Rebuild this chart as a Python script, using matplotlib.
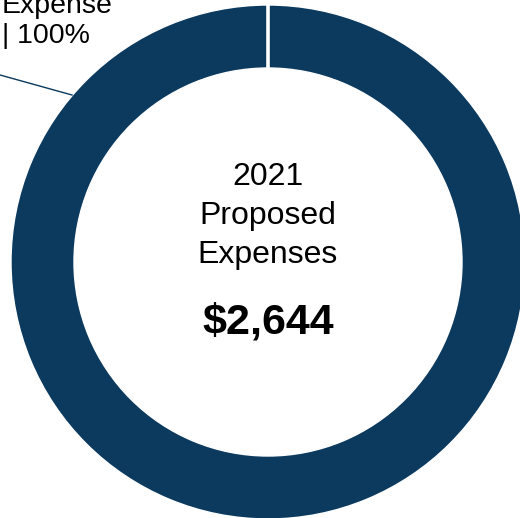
import matplotlib.pyplot as plt

# ----------------------------------------
# Data
# ----------------------------------------
categories = ["Expense"]
shares = [100]
total_label = "$2,644"
year = "2021"

color = "#0c3a5f"

# ----------------------------------------
# Plotting
# ----------------------------------------
plt.rcParams["font.family"] = ["Liberation Sans", "DejaVu Sans"]

fig = plt.figure(figsize=(5.2, 5.18), dpi=100)
ax = fig.add_axes([0, 0, 1, 1])

cx, cy, r, ring = 268, 262, 257, 63
ax.pie(shares, colors=[color], startangle=90, counterclock=False,
       center=(cx, cy), radius=r, frame=True,
       wedgeprops=dict(width=ring, edgecolor="white", linewidth=1))
ax.set_xlim(0, 520)
ax.set_ylim(518, 0)
ax.set_aspect("equal")
ax.axis("off")

# white separator where the single slice starts/ends (top of ring)
ax.plot([cx, cx], [cy - r - 2, cy - r + ring + 2], color="white", linewidth=2.6,
        solid_capstyle="butt")

# center text
ax.text(cx, 216, f"{year}\nProposed\nExpenses", ha="center", va="center",
        fontsize=23, linespacing=1.38, color="black")
ax.text(cx, 322, total_label, ha="center", va="center",
        fontsize=31, fontweight="bold", color="black")

# outside label + leader line
ax.text(2, 43, f"{categories[0]}\n| {shares[0]}%", ha="left", va="baseline",
        fontsize=20.5, linespacing=1.2, color="black")
ax.plot([0, 72], [75, 95], color=color, linewidth=1)

plt.savefig("out.png", dpi=100)
